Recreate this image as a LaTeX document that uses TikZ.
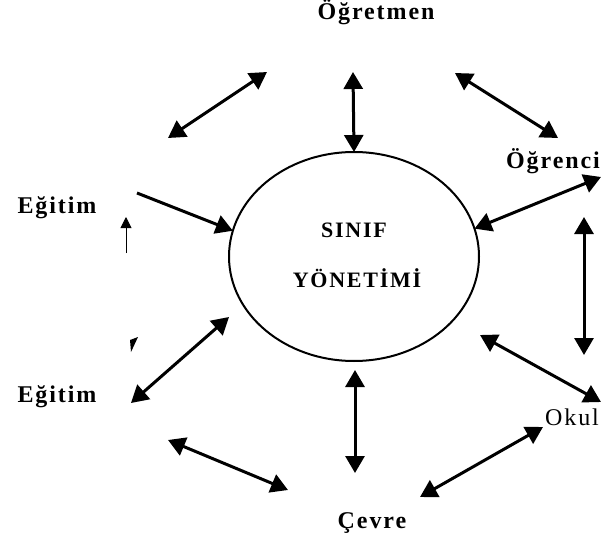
\documentclass[tikz,border=0pt]{standalone}
\usepackage{fontspec}
\setmainfont{Liberation Serif}
\newfontfamily\lblfont[LetterSpace=8]{Liberation Serif}
\usetikzlibrary{arrows.meta,shapes.geometric}

\tikzset{
  lbl/.style={font=\lblfont\bfseries\fontsize{24}{28}\selectfont, anchor=base, inner sep=0pt},
  lblthin/.style={font=\lblfont\fontsize{24}{28}\selectfont, anchor=base, inner sep=0pt},
  midlbl/.style={font=\lblfont\bfseries\fontsize{22}{26}\selectfont, anchor=base, inner sep=0pt},
  dbl/.style={{Triangle[length=17pt,width=19pt]}-{Triangle[length=17pt,width=19pt]}, line width=3pt},
  sgl/.style={-{Triangle[length=17pt,width=19pt]}, line width=3pt},
  thinarr/.style={-{Triangle[length=11pt,width=11pt]}, line width=0.9pt}
}

\begin{document}
\begin{tikzpicture}[x=1pt, y=-1pt]

    \useasboundingbox (0,0) rectangle (603,543);

    % Central ellipse
    \node[draw, ellipse, line width=2pt, minimum width=250pt, minimum height=209pt,
          inner sep=0pt, outer sep=0pt] (sinif) at (354,256.5) {};
    \node[midlbl] (sinifTxt) at (354,237) {SINIF};
    \node[midlbl] (yonetimTxt) at (357,287) {YÖNETİMİ};

    % Labels
    \node[lbl] (ogretmen) at (376,20) {Öğretmen};
    \node[lbl] (ogrenci) at (553,168) {Öğrenci};
    \node[lbl] (egitimA) at (57,213) {Eğitim};
    \node[lbl] (egitimB) at (57,402) {Eğitim};
    \node[lblthin] (okul) at (572,425) {Okul};
    \node[lbl] (cevre) at (372,528) {Çevre};

    % Arrow end points
    \coordinate (TLa) at (168,138);
    \coordinate (TLb) at (267,72);
    \coordinate (Ttop) at (353,72);
    \coordinate (TRa) at (455,73);
    \coordinate (TRb) at (558,138);
    \coordinate (Ogr) at (601,177);
    \coordinate (Ra) at (584,217);
    \coordinate (Rb) at (584,355);
    \coordinate (Oka) at (480,335);
    \coordinate (Okb) at (601,402);
    \coordinate (Cva) at (543,427);
    \coordinate (Cvb) at (420,497);
    \coordinate (Ba) at (355,370);
    \coordinate (Bb) at (355,473);
    \coordinate (BLa) at (168,440);
    \coordinate (BLb) at (288,490);
    \coordinate (Ea) at (131,403);
    \coordinate (Eb) at (229,317);
    \coordinate (Es) at (137,193);
    \coordinate (Sa) at (126,253);
    \coordinate (Sb) at (126,217);

    % Arrows
    \draw[dbl] (TLa) -- (TLb);
    \draw[dbl] (Ttop) -- (sinif.north);
    \draw[dbl] (TRa) -- (TRb);
    \draw[dbl] (sinif.13) -- (Ogr);
    \draw[dbl] (Ra) -- (Rb);
    \draw[dbl] (Oka) -- (Okb);
    \draw[dbl] (Cva) -- (Cvb);
    \draw[dbl] (Ba) -- (Bb);
    \draw[dbl] (BLa) -- (BLb);
    \draw[dbl] (Ea) -- (Eb);
    \draw[sgl] (Es) -- (sinif.168);
    \draw[thinarr] (Sa) -- (Sb);

    % small broken mark
    \fill (130,340) -- (138,337) -- (131,352) -- cycle;

\end{tikzpicture}
\end{document}
